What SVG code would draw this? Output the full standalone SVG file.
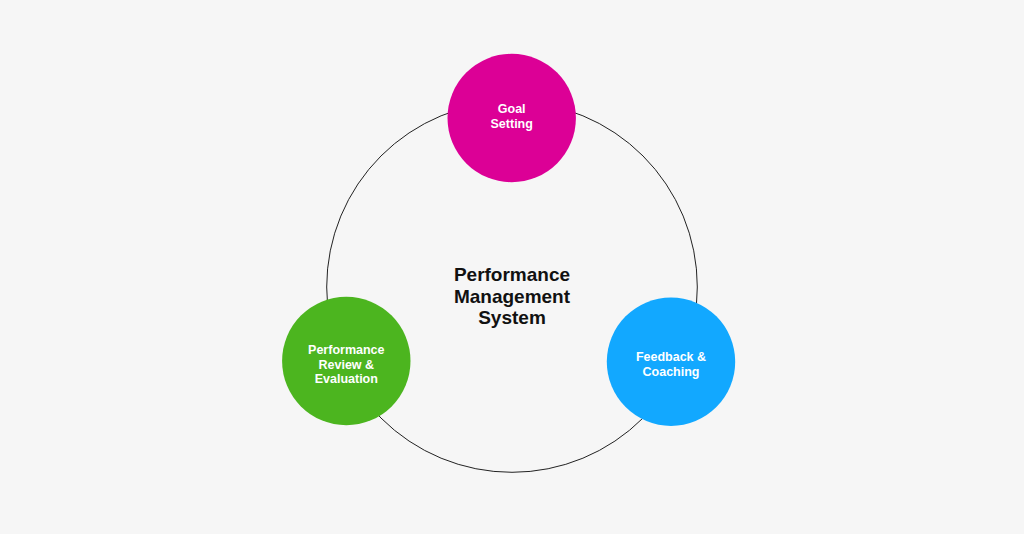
<svg xmlns="http://www.w3.org/2000/svg" width="1024" height="534" viewBox="0 0 1024 534">
  <style>
    .node-label { font-family: "Liberation Sans", Arial, sans-serif; font-weight: bold; font-size: 12.5px; fill: #ffffff; text-anchor: middle; }
    .center-label { font-family: "Liberation Sans", Arial, sans-serif; font-weight: bold; font-size: 19px; fill: #111111; text-anchor: middle; }
  </style>
  <rect width="1024" height="534" fill="#f6f6f6"/>
  <g id="connectors">
    <circle cx="512" cy="287" r="185.3" fill="none" stroke="#222222" stroke-width="1"/>
  </g>
  <g id="center">
    <text class="center-label" x="512" y="280.7">Performance</text>
    <text class="center-label" x="512" y="302.5">Management</text>
    <text class="center-label" x="512" y="324.3">System</text>
  </g>
  <g id="goal-setting">
    <circle cx="511.7" cy="118" r="64.2" fill="#dc0096"/>
    <text class="node-label" x="511.7" y="113.3">Goal</text>
    <text class="node-label" x="511.7" y="128">Setting</text>
  </g>
  <g id="feedback-coaching">
    <circle cx="671" cy="361.7" r="64.2" fill="#12a8ff"/>
    <text class="node-label" x="671" y="361">Feedback &amp;</text>
    <text class="node-label" x="671" y="375.7">Coaching</text>
  </g>
  <g id="performance-review">
    <circle cx="346.3" cy="361" r="64.2" fill="#4cb51f"/>
    <text class="node-label" x="346.3" y="354">Performance</text>
    <text class="node-label" x="346.3" y="368.5">Review &amp;</text>
    <text class="node-label" x="346.3" y="383.3">Evaluation</text>
  </g>
</svg>
